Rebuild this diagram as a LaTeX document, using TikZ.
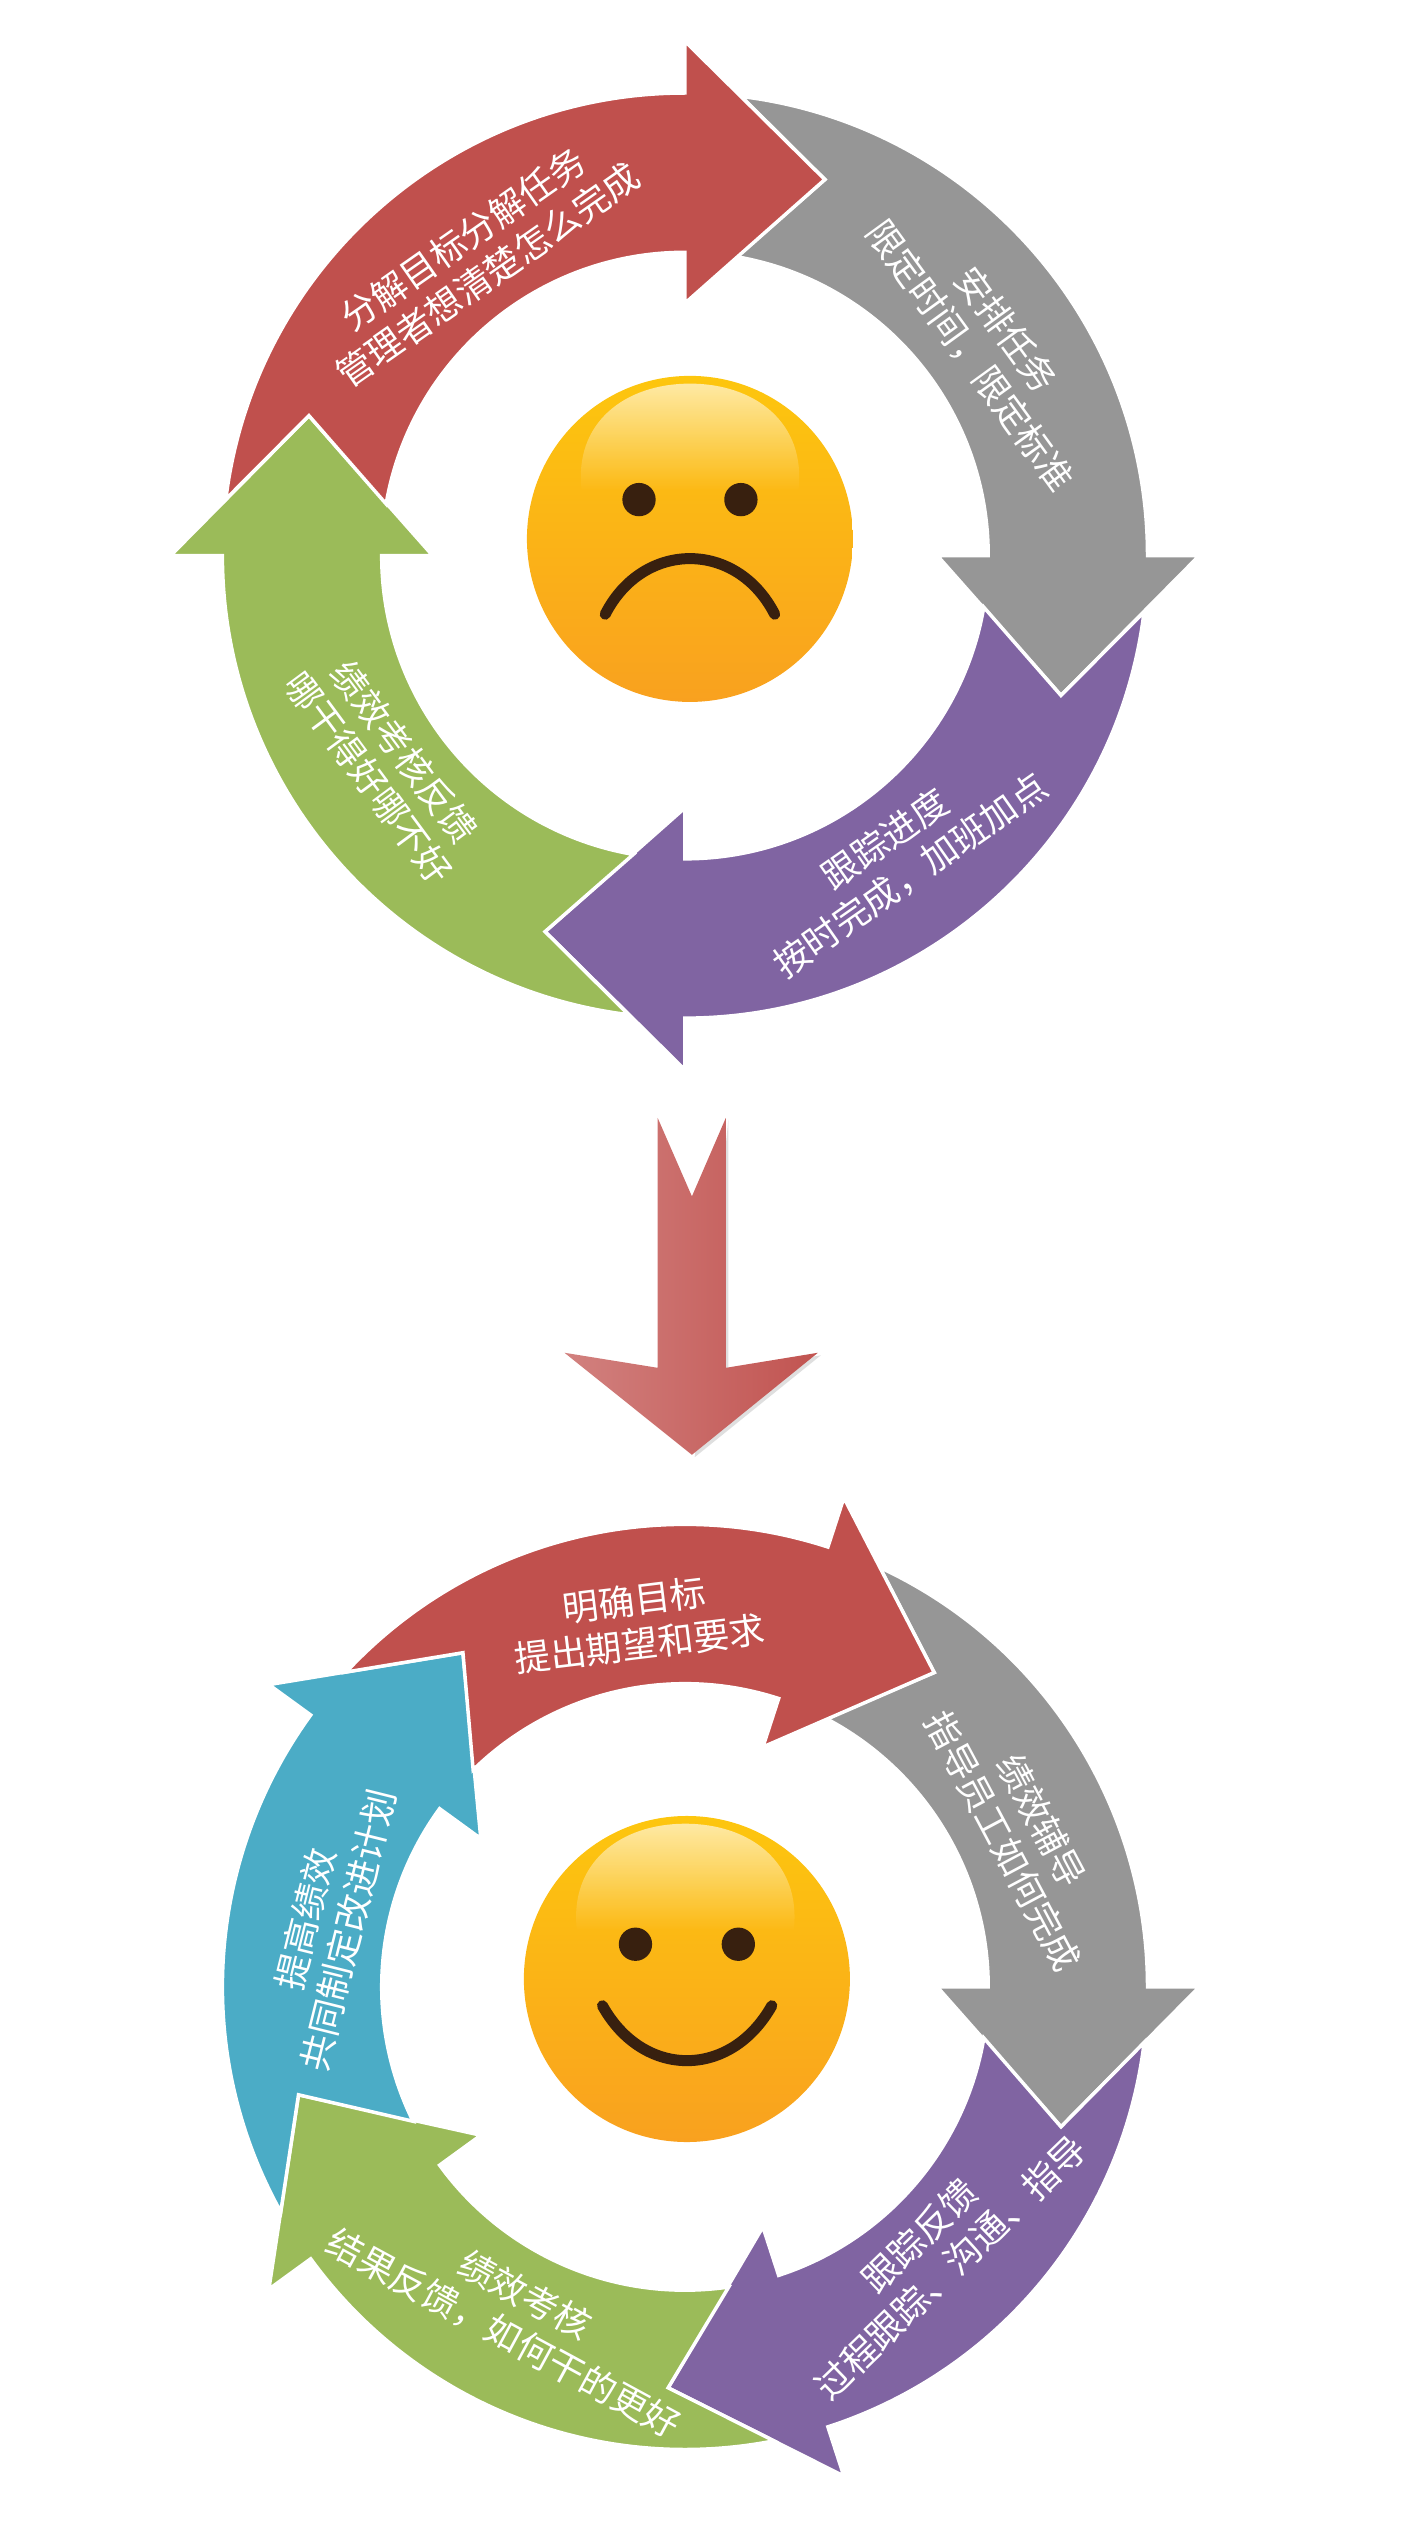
\documentclass[tikz,border=0pt]{standalone}
\usepackage{xcolor}
\usepackage{fontspec}
\usepackage{tikz}
\usetikzlibrary{fadings}
\newfontfamily\cjk{Noto Sans CJK SC}
\newcommand{\widecomma}{\char"FF0C\relax}
\definecolor{colorred}{HTML}{C0504D}
\definecolor{colorgray}{HTML}{969696}
\definecolor{colorpurple}{HTML}{8064A2}
\definecolor{colorgreen}{HTML}{9BBB59}
\definecolor{colorblue}{HTML}{4BACC6}
\definecolor{colorfeature}{HTML}{38200F}
\definecolor{FaceTop}{HTML}{FDC60E}
\definecolor{FaceMid}{HTML}{FCB018}
\definecolor{FaceLow}{HTML}{F9A11F}
\tikzset{
  ringarrow/.style={draw=white,line width=3.5pt,line join=miter},
  ringtext/.style={text=white,align=center,inner sep=0pt,font=\cjk\fontsize{36}{44}\selectfont},
  faceball/.style={top color=FaceTop,middle color=FaceMid,bottom color=FaceLow},
  facegloss/.style={fill=white,fill opacity=0.62,path fading=south},
  facemouth/.style={draw=colorfeature,line width=11pt,line cap=round}
}

\begin{document}
\begin{tikzpicture}[x=1.6168pt,y=1.6168pt,yscale=-1]
\useasboundingbox (0,0) rectangle (882,1568);

% Upper ring, four arrows
\begin{scope}[shift={(423.5,343.5)}]
\path[ringarrow,fill=colorgray] (-83:286) arc (-83:0:286) -- (318,0) -- (232.5,86.5) -- (156,0) -- (0:187.5) arc (0:-80.2:187.5) -- (86.5,-232.5) -- cycle;
\path[ringarrow,fill=colorpurple,rotate=90] (-83:286) arc (-83:0:286) -- (318,0) -- (232.5,86.5) -- (156,0) -- (0:187.5) arc (0:-80.2:187.5) -- (86.5,-232.5) -- cycle;
\path[ringarrow,fill=colorgreen,rotate=180] (-83:286) arc (-83:0:286) -- (318,0) -- (232.5,86.5) -- (156,0) -- (0:187.5) arc (0:-80.2:187.5) -- (86.5,-232.5) -- cycle;
\path[ringarrow,fill=colorred,rotate=270] (-83:286) arc (-83:0:286) -- (318,0) -- (232.5,86.5) -- (156,0) -- (0:187.5) arc (0:-80.2:187.5) -- (86.5,-232.5) -- cycle;
\end{scope}

% Upper ring, labels
\node[ringtext,rotate=35] (upperred) at (294,159) {分解目标分解任务\\管理者想清楚怎么完成};
\node[ringtext,rotate=-54] (uppergray) at (611,212) {安排任务\\限定时间\widecomma 限定标准};
\node[ringtext,rotate=35] (upperpurple) at (555,530) {跟踪进度\\按时完成\widecomma 加班加点};
\node[ringtext,rotate=-53.5] (uppergreen) at (239,473) {绩效考核反馈\\哪干得好哪不好};

% Sad face
\begin{scope}[shift={(426.6,333.2)}]
\shade[faceball] (0,0) circle (100.8);
\fill[facegloss] (-67,-30) .. controls (-72,-72) and (-40,-96) .. (0,-96) .. controls (40,-96) and (72,-72) .. (67,-30) -- cycle;
\fill[colorfeature] (-31.5,-24.3) circle (10.3);
\fill[colorfeature] (31.5,-24.3) circle (10.3);
\draw[facemouth] (-52.4,46.6) .. controls (-29,0.7) and (29,0.7) .. (52.4,46.6);
\end{scope}

% Arrow between the rings
\fill[gray!25] (450.3,692.5) -- (450.3,847) -- (507.5,838) -- (429.5,901) -- cycle;
\shade[left color=colorred!72!white,right color=colorred!98!white] (406.6,691.1) -- (427.8,739.7) -- (448.8,691.1) -- (448.8,845.7) -- (505.7,836.4) -- (427.8,899.5) -- (349,836.4) -- (406.6,845.7) -- cycle;

% Lower ring, five arrows
\begin{scope}[shift={(423.5,1228.5)}]
\path[ringarrow,fill=colorgray] (-65.1:286) arc (-65.1:0:286) -- (318,0) -- (232.5,86.5) -- (156,0) -- (0:187.5) arc (0:-62.3:187.5) -- (154.1,-194.4) -- cycle;
\path[ringarrow,fill=colorpurple,rotate=72] (-65.1:286) arc (-65.1:0:286) -- (318,0) -- (232.5,86.5) -- (156,0) -- (0:187.5) arc (0:-62.3:187.5) -- (154.1,-194.4) -- cycle;
\path[ringarrow,fill=colorgreen,rotate=144] (-65.1:286) arc (-65.1:0:286) -- (318,0) -- (232.5,86.5) -- (156,0) -- (0:187.5) arc (0:-62.3:187.5) -- (154.1,-194.4) -- cycle;
\path[ringarrow,fill=colorblue,rotate=216] (-65.1:286) arc (-65.1:0:286) -- (318,0) -- (232.5,86.5) -- (156,0) -- (0:187.5) arc (0:-62.3:187.5) -- (154.1,-194.4) -- cycle;
\path[ringarrow,fill=colorred,rotate=288] (-65.1:286) arc (-65.1:0:286) -- (318,0) -- (232.5,86.5) -- (156,0) -- (0:187.5) arc (0:-62.3:187.5) -- (154.1,-194.4) -- cycle;
\end{scope}

% Lower ring, labels
\node[ringtext,rotate=7] (lowerred) at (394,1003) {明确目标\\提出期望和要求};
\node[ringtext,rotate=-62] (lowergray) at (632,1132) {绩效辅导\\指导员工如何完成};
\node[ringtext,rotate=44] (lowerpurple) at (578,1392) {跟踪反馈\\过程跟踪、沟通、指导};
\node[ringtext,rotate=-28.5] (lowergreen) at (318,1431) {绩效考核\\结果反馈\widecomma 如何干的更好};
\node[ringtext,rotate=76] (lowerblue) at (202,1190) {提高绩效\\共同制定改进计划};

% Happy face
\begin{scope}[shift={(424.7,1223.6)}]
\shade[faceball] (0,0) circle (100.8);
\fill[facegloss] (-68,-30) .. controls (-73,-72) and (-41,-96) .. (-1,-96) .. controls (39,-96) and (71,-72) .. (66,-30) -- cycle;
\fill[colorfeature] (-31.8,-21.5) circle (10.3);
\fill[colorfeature] (31.8,-21.5) circle (10.3);
\draw[facemouth] (-52.2,16.5) .. controls (-27,61.8) and (27,61.8) .. (52.5,16.5);
\end{scope}
\end{tikzpicture}
\end{document}
